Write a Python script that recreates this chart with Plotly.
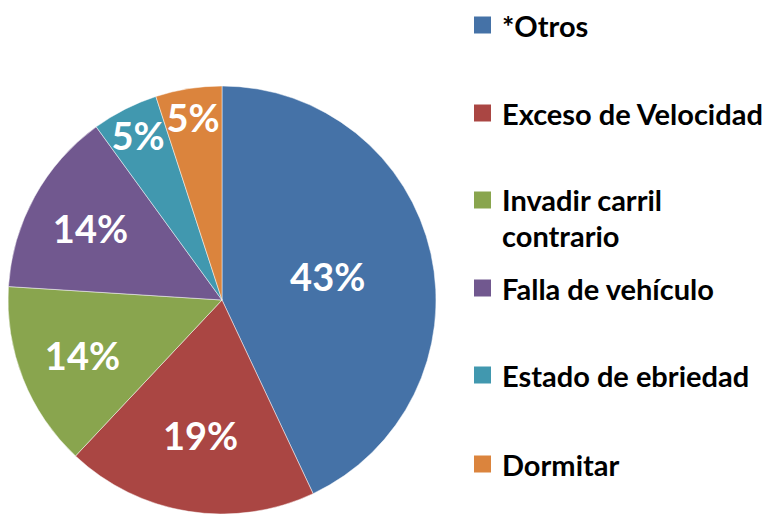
import plotly.graph_objects as go

labels = ["*Otros", "Exceso de Velocidad", "Invadir carril contrario",
          "Falla de vehículo", "Estado de ebriedad", "Dormitar"]
values = [43, 19, 14, 14, 5, 5]
colors = ["#4572A7", "#AA4643", "#89A54E", "#71588F", "#4198AF", "#DB843D"]
legend_lines = [["*Otros"], ["Exceso de Velocidad"], ["Invadir carril", "contrario"],
                ["Falla de vehículo"], ["Estado de ebriedad"], ["Dormitar"]]

W, H = 768, 514
FONT = "Lato"

fig = go.Figure(go.Pie(
    labels=labels, values=values, sort=False, direction="clockwise", rotation=0,
    marker=dict(colors=colors, line=dict(color="rgba(255,255,255,0.6)", width=0.8)),
    texttemplate="%{percent:.0%}", textposition="inside",
    insidetextorientation="horizontal",
    textfont=dict(family=FONT, size=38, color="white", weight="bold"),
    domain=dict(x=[7 / W, 437 / W], y=[0, 428 / H]),
    showlegend=False, hoverinfo="label+percent",
))

# manual legend
centers = [25, 113, 200, 288, 375, 464]
line_gap = 36
for lines, col, cy in zip(legend_lines, colors, centers):
    fig.add_shape(type="rect", xref="paper", yref="paper",
                  x0=474 / W, x1=491 / W, y0=1 - (cy - 8.5) / H, y1=1 - (cy + 8.5) / H,
                  fillcolor=col, line=dict(width=0))
    for i, t in enumerate(lines):
        fig.add_annotation(x=500 / W, y=1 - (cy + i * line_gap) / H, xref="paper", yref="paper",
                           text=t, showarrow=False, xanchor="left", yanchor="middle",
                           font=dict(family=FONT, size=29, color="black", weight="bold"))

fig.update_layout(width=W, height=H, margin=dict(l=0, r=0, t=0, b=0),
                  paper_bgcolor="white", plot_bgcolor="white",
                  uniformtext=dict(minsize=32, mode="show"))
fig.write_html("out.html")
